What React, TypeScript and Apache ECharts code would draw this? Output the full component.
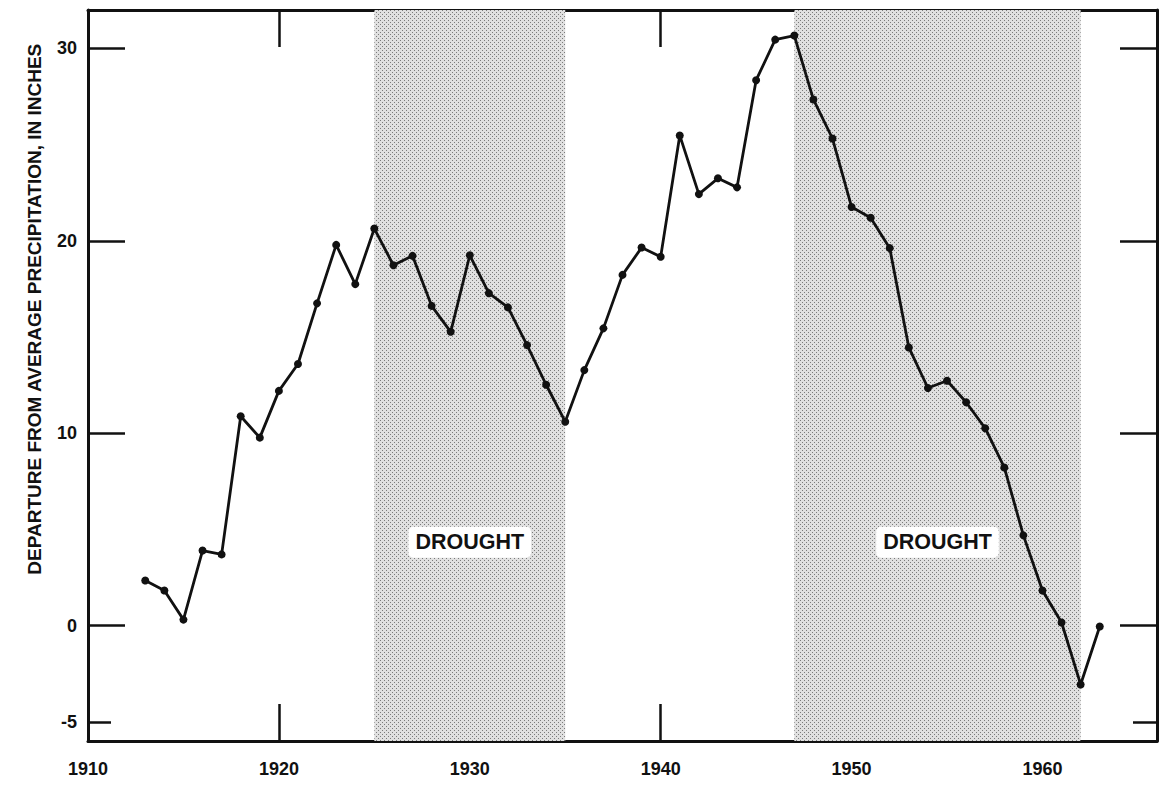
import React, { useEffect, useRef } from "react";
import * as echarts from "echarts";

const years: number[] = [
  1913, 1914, 1915, 1916, 1917, 1918, 1919, 1920, 1921, 1922, 1923, 1924, 1925,
  1926, 1927, 1928, 1929, 1930, 1931, 1932, 1933, 1934, 1935, 1936, 1937, 1938,
  1939, 1940, 1941, 1942, 1943, 1944, 1945, 1946, 1947, 1948, 1949, 1950, 1951,
  1952, 1953, 1954, 1955, 1956, 1957, 1958, 1959, 1960, 1961, 1962, 1963,
];
const departure: number[] = [
  2.34, 1.82, 0.31, 3.9, 3.7, 10.88, 9.77, 12.2, 13.6, 16.75, 19.79, 17.75, 20.64,
  18.73, 19.22, 16.62, 15.27, 19.25, 17.28, 16.54, 14.58, 12.52, 10.6, 13.28, 15.45, 18.23,
  19.65, 19.17, 25.48, 22.43, 23.25, 22.78, 28.35, 30.46, 30.67, 27.35, 25.32, 21.76, 21.2,
  19.62, 14.46, 12.35, 12.73, 11.61, 10.26, 8.22, 4.69, 1.82, 0.16, -3.06, -0.05,
];
const droughtPeriods: [number, number][] = [
  [1925, 1935],
  [1947, 1962],
];
const droughtLabel = "DROUGHT";
const xLabelValues: number[] = [1910, 1920, 1930, 1940, 1950, 1960];
const xTickValues: number[] = [1920, 1930, 1940, 1950, 1960];
const yLabelValues: number[] = [-5, 0, 10, 20, 30];
const yLongTickValues: number[] = [0, 10, 20, 30];
const yShortTickValues: number[] = [-5];
const yTitle = "DEPARTURE FROM AVERAGE PRECIPITATION, IN INCHES";

const FONT = "Liberation Sans";

function makePattern(): HTMLCanvasElement {
  const c = document.createElement("canvas");
  c.width = 4;
  c.height = 4;
  const ctx = c.getContext("2d")!;
  ctx.fillStyle = "#e0e0e0";
  ctx.fillRect(0, 0, 4, 4);
  ctx.fillStyle = "#7a7a7a";
  ctx.fillRect(0, 0, 1, 1);
  ctx.fillRect(2, 2, 1, 1);
  return c;
}

export default function App() {
  const ref = useRef<HTMLDivElement>(null);
  useEffect(() => {
    if (!ref.current) return;
    const chart = echarts.init(ref.current, undefined, { renderer: "svg" });
    const pattern = makePattern();
    const YMIN = -6;
    const YMAX = 32;
    const XMIN = 1910;
    const XMAX = 1966;
    const tickStyle = { color: "#111", width: 2.5 };
    const lineStyle = { color: "#111", width: 3 };
    const labelStyle = {
      fontFamily: FONT,
      fontWeight: "bold" as const,
      fontSize: 18,
      color: "#111",
    };
    const baseY = {
      type: "value",
      min: YMIN,
      max: YMAX,
      splitLine: { show: false },
    };
    const option: any = {
      animation: false,
      backgroundColor: "#fff",
      grid: { left: 88, right: 6, top: 10, bottom: 44, containLabel: false },
      xAxis: [
        {
          type: "value",
          position: "bottom",
          min: XMIN,
          max: XMAX,
          splitLine: { show: false },
          axisLine: { show: true, onZero: false, lineStyle },
          axisTick: {
            show: true,
            inside: true,
            length: 37,
            lineStyle: tickStyle,
            customValues: xTickValues,
          },
          axisLabel: {
            ...labelStyle,
            margin: 19,
            customValues: xLabelValues,
            formatter: (v: number) => String(v),
          },
        },
        {
          type: "value",
          position: "top",
          min: XMIN,
          max: XMAX,
          splitLine: { show: false },
          axisLine: { show: true, onZero: false, lineStyle },
          axisTick: {
            show: true,
            inside: true,
            length: 37,
            lineStyle: tickStyle,
            customValues: xTickValues,
          },
          axisLabel: { show: false },
        },
      ],
      yAxis: [
        {
          ...baseY,
          position: "left",
          axisLine: { show: true, onZero: false, lineStyle },
          axisTick: {
            show: true,
            inside: true,
            length: 37,
            lineStyle: tickStyle,
            customValues: yLongTickValues,
          },
          axisLabel: {
            ...labelStyle,
            margin: 11,
            customValues: yLabelValues,
          },
        },
        {
          ...baseY,
          position: "left",
          axisLine: { show: false, onZero: false },
          axisTick: {
            show: true,
            inside: true,
            length: 23,
            lineStyle: tickStyle,
            customValues: yShortTickValues,
          },
          axisLabel: { show: false },
        },
        {
          ...baseY,
          position: "right",
          axisLine: { show: true, onZero: false, lineStyle },
          axisTick: {
            show: true,
            inside: true,
            length: 37,
            lineStyle: tickStyle,
            customValues: yLongTickValues,
          },
          axisLabel: { show: false },
        },
        {
          ...baseY,
          position: "right",
          axisLine: { show: false, onZero: false },
          axisTick: {
            show: true,
            inside: true,
            length: 24,
            lineStyle: tickStyle,
            customValues: yShortTickValues,
          },
          axisLabel: { show: false },
        },
      ],
      graphic: [
        {
          type: "text",
          left: 25,
          top: 43,
          rotation: Math.PI / 2,
          style: {
            text: yTitle,
            fontFamily: FONT,
            fontWeight: "bold",
            fontSize: 19,
            fill: "#111",
            overflow: "none",
          },
        },
      ],
      series: [
        {
          type: "line",
          xAxisIndex: 0,
          yAxisIndex: 0,
          data: years.map((y, i) => [y, departure[i]]),
          symbol: "circle",
          symbolSize: 8,
          showSymbol: true,
          lineStyle: { color: "#111", width: 2.8 },
          itemStyle: { color: "#111" },
          z: 5,
          markArea: {
            silent: true,
            itemStyle: {
              color: { image: pattern, repeat: "repeat" },
            },
            label: {
              show: true,
              position: ["50%", "72.8%"],
              align: "center",
              verticalAlign: "middle",
              formatter: droughtLabel,
              fontFamily: FONT,
              fontWeight: "bold",
              fontSize: 21.5,
              color: "#111",
              backgroundColor: "#fff",
              padding: [5, 7, 4, 7],
              borderRadius: 5,
            },
            data: droughtPeriods.map(([a, b]) => [{ xAxis: a }, { xAxis: b }]),
          },
        },
      ],
    };
    chart.setOption(option);
    return () => chart.dispose();
  }, []);
  return (
    <div
      ref={ref}
      style={{ position: "fixed", left: 0, top: 0, width: 1163, height: 785, background: "#fff" }}
    />
  );
}
